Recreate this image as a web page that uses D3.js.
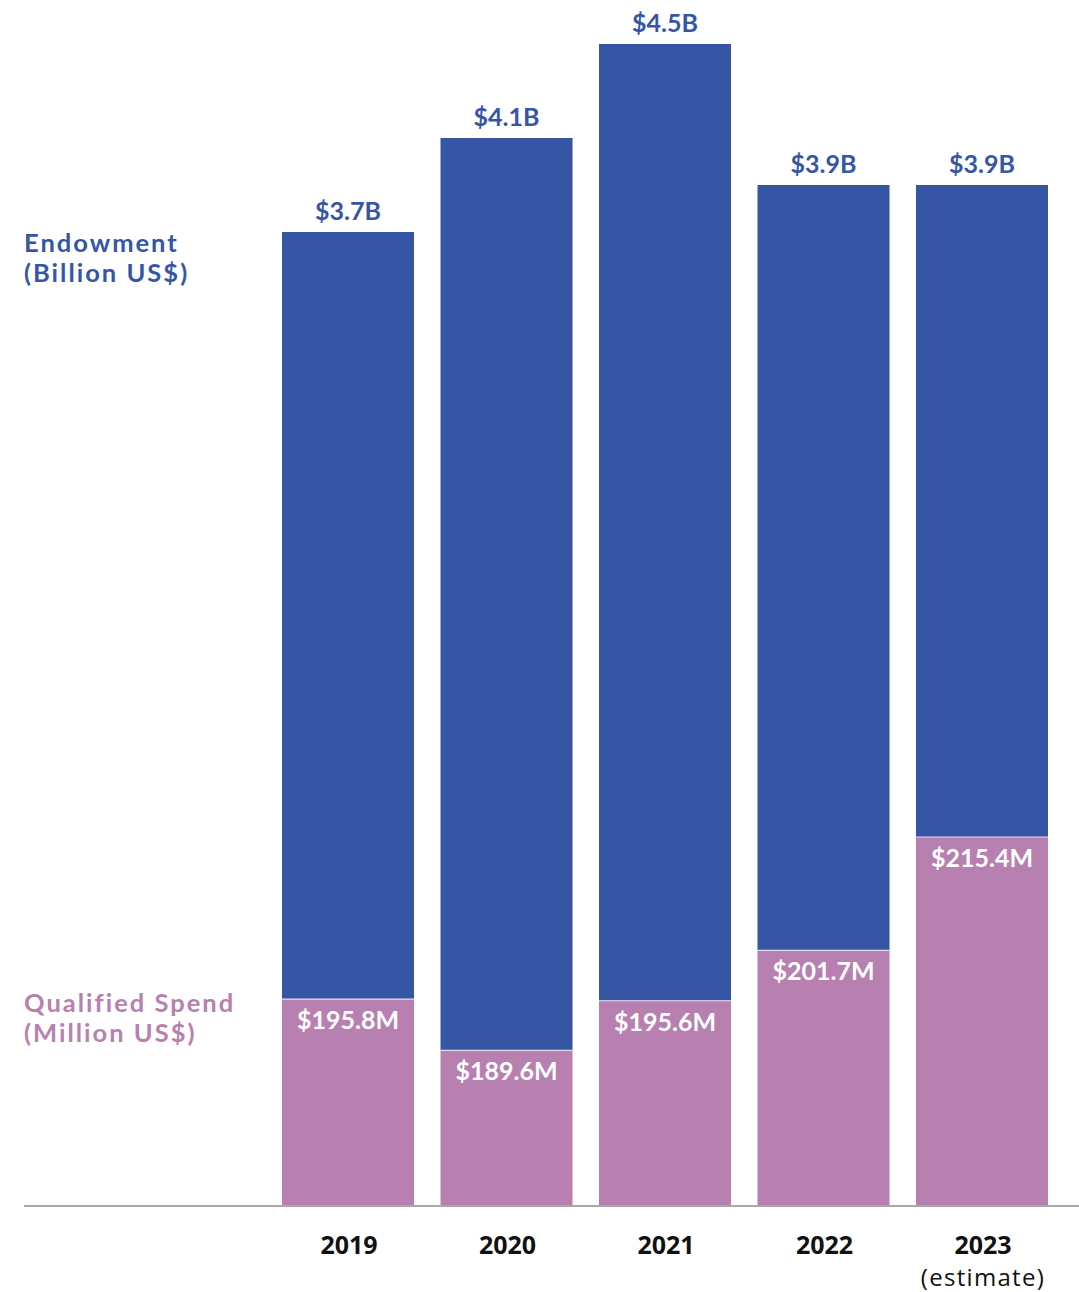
<!DOCTYPE html>
<html><head><meta charset="utf-8">
<script src="https://cdn.jsdelivr.net/npm/d3@7"></script>
<style>html,body{margin:0;padding:0;background:#fff;}</style>
</head><body>
<svg id="chart" width="1079" height="1292"></svg>
<script>
const years = ["2019", "2020", "2021", "2022", "2023"];
const yearNotes = ["", "", "", "", "(estimate)"];
const endowment = [3.7, 4.1, 4.5, 3.9, 3.9];
const endowmentLabels = ["$3.7B", "$4.1B", "$4.5B", "$3.9B", "$3.9B"];
const qualifiedSpend = [195.8, 189.6, 195.6, 201.7, 215.4];
const spendLabels = ["$195.8M", "$189.6M", "$195.6M", "$201.7M", "$215.4M"];

const BLUE = "#3656a5", PINK = "#b880b0";
const svg = d3.select("#chart");
const baseY = 1205;

const x = d3.scaleBand().domain(years).range([282, 1048]).paddingInner(0.167).paddingOuter(0);
const yEnd = d3.scaleLinear().domain([3.7, 4.5]).range([232, 44]);
const ySpend = d3.scaleLinear().domain([170.9, 215.4]).range([baseY, 837]);

const font = "Lato, 'Open Sans', sans-serif";

const g = svg.append("g");
years.forEach((yr, i) => {
  const x0 = x(yr), w = x.bandwidth();
  const top = yEnd(endowment[i]);
  const mid = ySpend(qualifiedSpend[i]);
  g.append("rect").attr("x", x0).attr("y", top).attr("width", w).attr("height", mid - top).attr("fill", BLUE);
  g.append("rect").attr("x", x0).attr("y", mid).attr("width", w).attr("height", baseY - mid).attr("fill", PINK);
  g.append("line").attr("x1", x0).attr("x2", x0 + w).attr("y1", mid).attr("y2", mid).attr("stroke", "#e6dcef").attr("stroke-width", 1.2);
  g.append("text").attr("x", x0 + w / 2).attr("y", top - 12).attr("text-anchor", "middle")
    .attr("font-family", font).attr("font-weight", 700).attr("font-size", 25).attr("fill", BLUE).text(endowmentLabels[i]);
  g.append("text").attr("x", x0 + w / 2).attr("y", mid + 30).attr("text-anchor", "middle")
    .attr("font-family", font).attr("font-weight", 700).attr("font-size", 25).attr("fill", "#fff").text(spendLabels[i]);
  g.append("text").attr("x", x0 + w / 2 + 1).attr("y", 1254).attr("text-anchor", "middle")
    .attr("font-family", "'Open Sans', sans-serif").attr("font-weight", 700).attr("font-size", 25).attr("fill", "#111").text(yr);
  if (yearNotes[i]) {
    g.append("text").attr("x", x0 + w / 2 + 1).attr("y", 1286).attr("text-anchor", "middle")
      .attr("font-family", "'Open Sans', sans-serif").attr("font-weight", 400).attr("font-size", 24)
      .attr("letter-spacing", 1.3).attr("fill", "#111").text(yearNotes[i]);
  }
});

svg.append("line").attr("x1", 24).attr("x2", 1079).attr("y1", baseY + 1).attr("y2", baseY + 1)
  .attr("stroke", "#a8a8a8").attr("stroke-width", 2);

const leftLabel = (lines, y0, color) => {
  lines.forEach((t, k) => {
    svg.append("text").attr("x", 24).attr("y", y0 + k * 30)
      .attr("font-family", font).attr("font-weight", 700).attr("font-size", 25.5)
      .attr("letter-spacing", 2).attr("fill", color).text(t);
  });
};
leftLabel(["Endowment", "(Billion US$)"], 252, BLUE);
leftLabel(["Qualified Spend", "(Million US$)"], 1012, PINK);
</script>
</body></html>
